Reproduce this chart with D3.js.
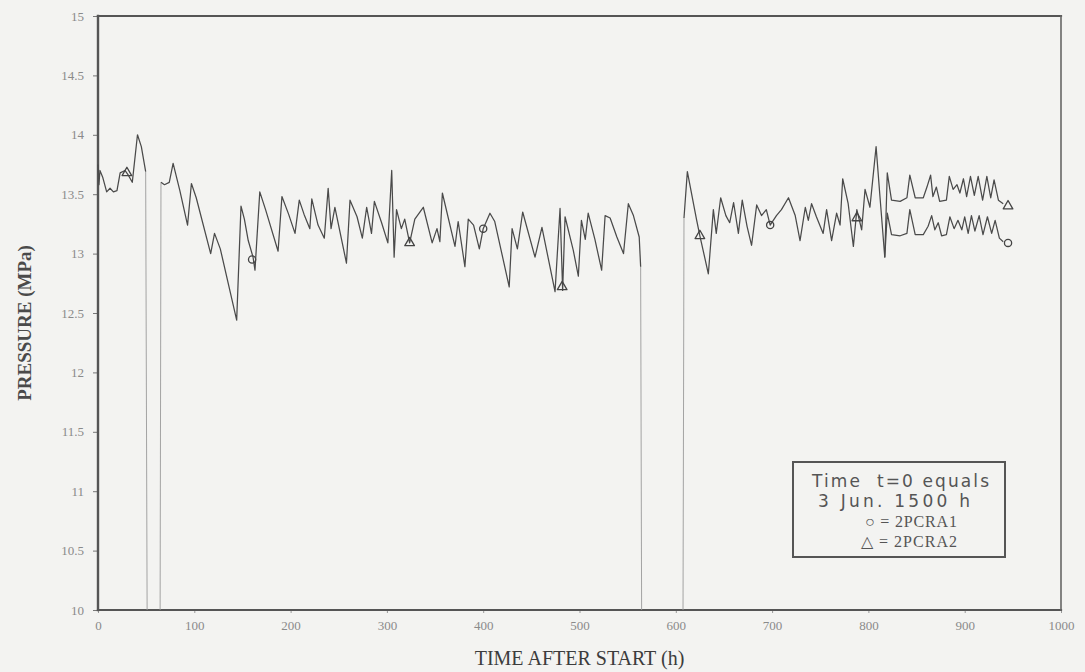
<!DOCTYPE html>
<html>
<head>
<meta charset="utf-8">
<script src="https://cdn.jsdelivr.net/npm/d3@7"></script>
<style>
  html, body { margin: 0; padding: 0; background: #f3f3f1; }
  svg { display: block; }
</style>
</head>
<body>
<script>
// Pressure trace, [hours, MPa]; both channels overlap until ~818 h
const commonTrace = [
  [0, 13.75], [1, 13.58], [2, 13.7], [5, 13.64], [9, 13.52], [12.5, 13.55], [16, 13.52], [19.7, 13.53],
  [23, 13.68], [28, 13.7], [31.5, 13.66], [35.6, 13.6], [41, 14.0], [45, 13.9], [49.5, 13.69],
  [51, 10], [64.5, 10],
  [65.4, 13.6], [69, 13.58], [74, 13.6], [78, 13.76], [85, 13.53], [93, 13.24], [97, 13.59],
  [102, 13.47], [117, 13.0], [121, 13.17], [127, 13.04], [144, 12.44], [148.5, 13.4],
  [152, 13.29], [156, 13.11], [161, 12.97], [163, 12.86], [168, 13.52], [174, 13.37],
  [187, 13.02], [191, 13.48], [198, 13.33], [204.6, 13.17], [209, 13.45], [214, 13.33],
  [220, 13.21], [222, 13.46], [228.5, 13.24], [235, 13.13], [239, 13.55], [242, 13.21],
  [246, 13.39], [258, 12.92], [261.7, 13.45], [269, 13.31], [274.5, 13.13], [279, 13.39],
  [284, 13.17], [287, 13.44], [294.5, 13.26], [301, 13.09], [305, 13.7], [307.5, 12.97],
  [310, 13.37], [315, 13.21], [318.5, 13.29], [323.6, 13.09], [329, 13.29], [337.8, 13.39],
  [347, 13.09], [352, 13.21], [355, 13.1], [357.6, 13.51], [370.7, 13.06], [374, 13.27],
  [381, 12.89], [384.5, 13.29], [390, 13.24], [396, 13.04], [400, 13.21], [407, 13.34],
  [412, 13.27], [427, 12.72], [430, 13.21], [435.5, 13.04], [441, 13.35], [453.8, 12.97],
  [461, 13.22], [474.6, 12.68], [479.8, 13.38], [482.5, 12.69], [485, 13.31], [493.5, 13.03],
  [498.8, 12.81], [502, 13.28], [506, 13.12], [509, 13.34], [516, 13.12], [523, 12.86],
  [526.6, 13.32], [531.8, 13.3], [538.8, 13.14], [545.7, 13.0], [550.7, 13.42], [556, 13.32],
  [562, 13.14], [563.5, 12.89],
  [564.5, 10], [607.5, 10],
  [608.5, 13.3], [612, 13.69], [621.7, 13.28], [625, 13.15], [633.8, 12.83], [639, 13.37],
  [642, 13.17], [646.6, 13.47], [652, 13.32], [656, 13.26], [660, 13.43], [665, 13.17],
  [669, 13.45], [674, 13.23], [678.7, 13.07], [684, 13.41], [689, 13.32], [694, 13.37],
  [698, 13.24], [704.5, 13.32], [709.7, 13.37], [717, 13.47], [724, 13.32], [729, 13.11],
  [734.5, 13.39], [737.6, 13.28], [741, 13.42], [746, 13.31], [753, 13.17], [756.6, 13.37],
  [761.8, 13.11], [767, 13.34], [770.6, 13.24], [773.3, 13.63], [779, 13.42], [784.4, 13.06],
  [788, 13.37], [793, 13.2], [796.5, 13.54], [801.6, 13.39], [808, 13.9], [812, 13.48],
  [817, 12.97]
];

// 2PCRA1 (o) after the channels split
const tailPCRA1 = [
  [819.6, 13.34], [824, 13.16], [833, 13.15], [840, 13.17], [843, 13.37], [848.6, 13.16],
  [857, 13.16], [862, 13.23], [865.7, 13.32], [869, 13.2], [872.5, 13.26], [876, 13.15],
  [881, 13.16], [884.6, 13.31], [889, 13.21], [893, 13.28], [897, 13.2], [900, 13.31],
  [903.6, 13.17], [907, 13.32], [910.6, 13.19], [915, 13.32], [919, 13.16], [923.6, 13.31],
  [928, 13.17], [931.6, 13.28], [936, 13.13], [940, 13.1]
];

// 2PCRA2 (triangle) after the channels split
const tailPCRA2 = [
  [819.6, 13.68], [824, 13.45], [833, 13.44], [840, 13.47], [843, 13.66], [848.6, 13.47],
  [857, 13.47], [860.8, 13.56], [864.6, 13.66], [867, 13.48], [870.6, 13.56], [874, 13.44],
  [881, 13.45], [884, 13.65], [888, 13.54], [892, 13.58], [895, 13.51], [898.7, 13.63],
  [902, 13.48], [906, 13.65], [910, 13.49], [914, 13.65], [918.6, 13.45], [923, 13.65],
  [927, 13.47], [930.5, 13.62], [935, 13.45], [940, 13.42]
];

const markersPCRA1 = [[160, 12.95], [400, 13.21], [698, 13.24], [945, 13.09]];
const markersPCRA2 = [[30, 13.68], [323.6, 13.09], [482, 12.72], [625, 13.15], [788, 13.3], [945, 13.4]];

const xTicks = [0, 100, 200, 300, 400, 500, 600, 700, 800, 900, 1000];
const yTicks = [10, 10.5, 11, 11.5, 12, 12.5, 13, 13.5, 14, 14.5, 15];
const legendLines = ["Time  t=0 equals", "3 Jun. 1500 h", "\u25CB = 2PCRA1", "\u25B3 = 2PCRA2"];

const width = 1085;
const height = 672;
const margin = { top: 16, right: 24, bottom: 62, left: 98 };
const floorValue = 10;

const x = d3.scaleLinear().domain([0, 1000]).range([margin.left, width - margin.right]);
const y = d3.scaleLinear().domain([10, 15]).range([height - margin.bottom, margin.top]);

const svg = d3.select("body").append("svg")
  .attr("width", width)
  .attr("height", height)
  .attr("viewBox", [0, 0, width, height]);

svg.append("rect").attr("width", width).attr("height", height).attr("fill", "#f3f3f1");

// axes (ticks + labels), frame drawn separately
const yAxis = svg.append("g")
  .attr("transform", `translate(${margin.left},0)`)
  .call(d3.axisLeft(y).tickValues(yTicks).tickSize(5).tickPadding(9).tickFormat(d => String(d)));
yAxis.select(".domain").remove();
yAxis.selectAll(".tick line").attr("stroke", "#777");
yAxis.selectAll(".tick text")
  .attr("fill", "#8a8a8a")
  .style("font-family", "'Liberation Serif', serif")
  .style("font-size", "13px");

const xAxis = svg.append("g")
  .attr("transform", `translate(0,${height - margin.bottom})`)
  .call(d3.axisBottom(x).tickValues(xTicks).tickSize(3).tickPadding(8).tickFormat(d => String(d)));
xAxis.select(".domain").remove();
xAxis.selectAll(".tick line").attr("stroke", "#999");
xAxis.selectAll(".tick text")
  .attr("fill", "#8a8a8a")
  .style("font-family", "'Liberation Serif', serif")
  .style("font-size", "13px");

// frame
const x0 = x(0), x1 = x(1000), yTop = y(15), yBot = y(10);
const frame = svg.append("g").attr("stroke-linecap", "square");
frame.append("line").attr("x1", x0).attr("x2", x1).attr("y1", yTop).attr("y2", yTop)
  .attr("stroke", "#555").attr("stroke-width", 2.2);
frame.append("line").attr("x1", x0).attr("x2", x1).attr("y1", yBot).attr("y2", yBot)
  .attr("stroke", "#555").attr("stroke-width", 2.2);
frame.append("line").attr("x1", x0).attr("x2", x0).attr("y1", yTop).attr("y2", yBot)
  .attr("stroke", "#555").attr("stroke-width", 2.4);
frame.append("line").attr("x1", x1).attr("x2", x1).attr("y1", yTop).attr("y2", yBot)
  .attr("stroke", "#666").attr("stroke-width", 1.6);

// series
const seriesPCRA1 = commonTrace.concat(tailPCRA1);
const seriesPCRA2 = commonTrace.slice(-1).concat(tailPCRA2);

const line = d3.line()
  .defined(d => d[1] > floorValue)
  .x(d => x(d[0]))
  .y(d => y(d[1]));

const plot = svg.append("g").attr("fill", "none").attr("stroke-linejoin", "round");

// drops to the axis during the outages: thinner, fainter strokes
const drops = [];
commonTrace.forEach((d, i) => {
  if (i === 0) return;
  const p = commonTrace[i - 1];
  if ((d[1] <= floorValue) !== (p[1] <= floorValue)) drops.push([p, d]);
});
plot.selectAll(".drop").data(drops).join("line")
  .attr("class", "drop")
  .attr("x1", d => x(d[0][0])).attr("y1", d => y(d[0][1]))
  .attr("x2", d => x(d[1][0])).attr("y2", d => y(d[1][1]))
  .attr("stroke", "#9a9a9a").attr("stroke-width", 0.9);

plot.append("path").attr("d", line(seriesPCRA1))
  .attr("stroke", "#4a4a4a").attr("stroke-width", 1.25);
plot.append("path").attr("d", line(seriesPCRA2))
  .attr("stroke", "#4a4a4a").attr("stroke-width", 1.25);

// plotting symbols
plot.selectAll(".m1").data(markersPCRA1).join("circle")
  .attr("class", "m1")
  .attr("cx", d => x(d[0])).attr("cy", d => y(d[1])).attr("r", 3.6)
  .attr("stroke", "#444").attr("stroke-width", 1.3);
const tri = d3.symbol().type(d3.symbolTriangle).size(40);
plot.selectAll(".m2").data(markersPCRA2).join("path")
  .attr("class", "m2")
  .attr("transform", d => `translate(${x(d[0])},${y(d[1])})`)
  .attr("d", tri)
  .attr("stroke", "#444").attr("stroke-width", 1.3);

// axis titles
svg.append("text")
  .attr("transform", "translate(24,323) rotate(-90)")
  .attr("text-anchor", "middle")
  .attr("dominant-baseline", "central")
  .attr("fill", "#4a4a4a")
  .style("font-family", "'Liberation Serif', serif")
  .style("font-weight", "bold")
  .style("font-size", "19px")
  .text("PRESSURE (MPa)");

svg.append("text")
  .attr("x", (x0 + x1) / 2)
  .attr("y", 665)
  .attr("text-anchor", "middle")
  .attr("fill", "#3c3c3c")
  .style("font-family", "'Liberation Serif', serif")
  .style("font-size", "20px")
  .text("TIME AFTER START (h)");

// legend box
const legend = svg.append("g");
legend.append("rect")
  .attr("x", 793).attr("y", 462).attr("width", 212).attr("height", 95)
  .attr("fill", "none").attr("stroke", "#555").attr("stroke-width", 2);
const legendRows = [
  { x: 812, y: 487, anchor: "start", font: "'DejaVu Sans', sans-serif", size: 17, len: 177 },
  { x: 818, y: 507, anchor: "start", font: "'DejaVu Sans', sans-serif", size: 17, len: 152 },
  { x: 911, y: 527, anchor: "middle", font: "'Liberation Serif', serif", size: 16, len: 92 },
  { x: 909, y: 547, anchor: "middle", font: "'Liberation Serif', serif", size: 16, len: 96 }
];
legend.selectAll("text").data(legendLines).join("text")
  .attr("x", (d, i) => legendRows[i].x)
  .attr("y", (d, i) => legendRows[i].y)
  .attr("text-anchor", (d, i) => legendRows[i].anchor)
  .attr("fill", "#555")
  .attr("textLength", (d, i) => legendRows[i].len)
  .attr("lengthAdjust", "spacing")
  .style("font-family", (d, i) => legendRows[i].font)
  .style("font-size", (d, i) => legendRows[i].size + "px")
  .style("white-space", "pre")
  .text(d => d);
</script>
</body>
</html>
